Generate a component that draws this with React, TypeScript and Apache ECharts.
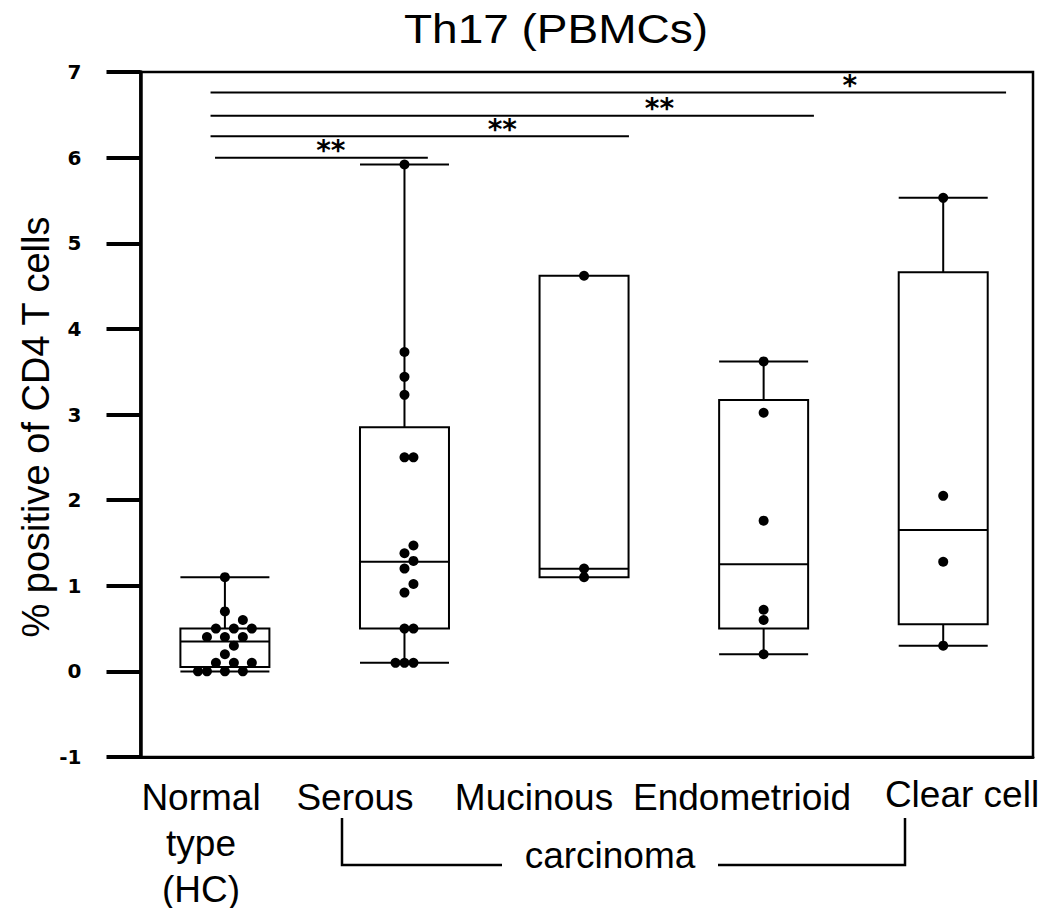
import React, { useEffect, useRef } from "react";
import * as echarts from "echarts";

// Groups shown along the x axis
const CATEGORIES = ["Normal type (HC)", "Serous", "Mucinous", "Endometrioid", "Clear cell"];
const CATEGORY_LABEL_LINES = [["Normal", "type", "(HC)"], ["Serous"], ["Mucinous"], ["Endometrioid"], ["Clear cell"]];

// Box statistics per group: [min, Q1, median, Q3, max]
const BOX_STATS = [
  [0, 0.05, 0.35, 0.5, 1.1],
  [0.1, 0.5, 1.28, 2.85, 5.92],
  [1.1, 1.1, 1.2, 4.62, 4.62],
  [0.2, 0.5, 1.25, 3.17, 3.62],
  [0.3, 0.55, 1.65, 4.66, 5.53],
];

// Individual samples per group: [value, swarm slot]
const HC_POINTS = [
  [1.1, 0], [0.7, 0], [0.6, 2],
  [0.5, -1], [0.5, 1], [0.5, 3],
  [0.4, -2], [0.4, 0], [0.4, 2],
  [0.3, 1], [0.2, 0],
  [0.1, -1], [0.1, 1], [0.1, 3],
  [0, -3], [0, -2], [0, 0], [0, 2],
];
const SEROUS_POINTS = [
  [5.92, 0], [3.73, 0], [3.44, 0], [3.23, 0],
  [2.5, 0], [2.5, 1],
  [1.47, 1], [1.38, 0], [1.29, 1], [1.2, 0], [1.02, 1], [0.92, 0],
  [0.5, 0], [0.5, 1],
  [0.1, -1], [0.1, 0], [0.1, 1],
];
const MUCINOUS_POINTS = [[4.62, 0], [1.2, 0], [1.1, 0]];
const ENDOMETRIOID_POINTS = [[3.62, 0], [3.02, 0], [1.76, 0], [0.72, 0], [0.6, 0], [0.2, 0]];
const CLEAR_CELL_POINTS = [[5.53, 0], [2.05, 0], [1.28, 0], [0.3, 0]];
const GROUP_POINTS = [HC_POINTS, SEROUS_POINTS, MUCINOUS_POINTS, ENDOMETRIOID_POINTS, CLEAR_CELL_POINTS];

// Significance brackets (vs. HC)
const SIG_LABELS = ["*", "**", "**", "**"];
const SIG_LEVELS = [6.76, 6.49, 6.25, 6.0];

// ---- layout ----
const W = 1043;
const H = 908;
const GRID = { left: 140.5, right: 10, top: 72, bottom: 151 };
const X_MIN = -0.47;
const X_MAX = 4.5;
const SWARM_STEP = 0.05; // lateral spacing of overlapping dots, in category units
// bracket start, end and label position along the x axis (category units)
const SIG_SPANS = [
  [-0.08, 4.35, 3.48],
  [-0.08, 3.28, 2.42],
  [-0.08, 2.25, 1.545],
  [-0.055, 1.13, 0.59],
];
const LABEL_POS = [
  [201, 797],
  [355, 797],
  [534, 797],
  [742, 797],
  [962, 794],
];
const LABEL_LINE_STEP = 46;

const TEXT_FONT = "'Liberation Sans', Arial, sans-serif";

export default function App() {
  const ref = useRef<HTMLDivElement>(null);

  useEffect(() => {
    if (!ref.current) return;
    const chart = echarts.init(ref.current, undefined, { renderer: "svg", width: W, height: H });

    const points: number[][] = [];
    GROUP_POINTS.forEach((pts, gi) => {
      pts.forEach(([v, slot]) => points.push([gi + slot * SWARM_STEP, v]));
    });

    const bracketSeries = SIG_LEVELS.map((y, i) => ({
      type: "line",
      data: [
        [SIG_SPANS[i][0], y],
        [SIG_SPANS[i][1], y],
      ],
      symbol: "none",
      silent: true,
      lineStyle: { color: "#000", width: 2 },
      z: 4,
    }));

    const starData = SIG_LEVELS.map((y, i) => [SIG_SPANS[i][2], y, SIG_LABELS[i]]);

    const labelGraphics: any[] = [];
    CATEGORY_LABEL_LINES.forEach((lines, i) => {
      lines.forEach((t, li) => {
        labelGraphics.push({
          type: "text",
          x: LABEL_POS[i][0],
          y: LABEL_POS[i][1] + li * LABEL_LINE_STEP,
          style: {
            text: t,
            fontSize: 37,
            fontFamily: TEXT_FONT,
            fill: "#000",
            align: "center",
            verticalAlign: "middle",
          },
        });
      });
    });

    const bracketLine = { stroke: "#000", lineWidth: 2.5 };

    chart.setOption({
      animation: false,
      backgroundColor: "#fff",
      grid: {
        ...GRID,
        show: true,
        borderColor: "#000",
        borderWidth: 2.5,
        backgroundColor: "transparent",
      },
      xAxis: {
        type: "value",
        min: X_MIN,
        max: X_MAX,
        axisLine: { show: true, onZero: false, lineStyle: { color: "#000", width: 3 } },
        axisTick: { show: false },
        axisLabel: { show: false },
        splitLine: { show: false },
      },
      yAxis: {
        type: "value",
        min: -1,
        max: 7,
        interval: 1,
        axisLine: { show: true, onZero: false, lineStyle: { color: "#000", width: 3.5 } },
        axisTick: { show: true, length: 34, lineStyle: { color: "#000", width: 4 } },
        axisLabel: {
          margin: 59,
          fontFamily: "'DejaVu Sans', sans-serif",
          fontWeight: "bold",
          fontSize: 20,
          color: "#000",
        },
        splitLine: { show: false },
      },
      series: [
        {
          type: "boxplot",
          name: "Th17",
          layout: "horizontal",
          data: BOX_STATS.map((s, i) => ({ name: CATEGORIES[i], value: [i, ...s] })),
          boxWidth: [89, 89],
          itemStyle: { color: "#fff", borderColor: "#000", borderWidth: 2 },
          emphasis: { disabled: true },
          silent: true,
          z: 2,
        },
        {
          type: "scatter",
          data: points,
          symbol: "circle",
          symbolSize: 10,
          itemStyle: { color: "#000", opacity: 1 },
          silent: true,
          z: 5,
        },
        ...bracketSeries,
        {
          type: "scatter",
          data: starData,
          symbolSize: 1,
          itemStyle: { color: "transparent" },
          silent: true,
          label: {
            show: true,
            position: "inside",
            offset: [0, -7],
            formatter: (p: any) => p.value[2],
            fontFamily: "'DejaVu Sans', sans-serif",
            fontWeight: "bold",
            fontSize: 28,
            color: "#000",
            opacity: 1,
            textBorderWidth: 0,
          },
          z: 6,
        },
      ],
      graphic: [
        {
          type: "text",
          x: 556,
          y: 29,
          scaleX: 1.15,
          style: {
            text: "Th17 (PBMCs)",
            fontSize: 40,
            fontFamily: TEXT_FONT,
            fill: "#000",
            align: "center",
            verticalAlign: "middle",
          },
        },
        {
          type: "text",
          x: 36,
          y: 427,
          rotation: Math.PI / 2,
          style: {
            text: "% positive of CD4 T cells",
            fontSize: 38,
            fontFamily: TEXT_FONT,
            fill: "#000",
            align: "center",
            verticalAlign: "middle",
          },
        },
        ...labelGraphics,
        {
          type: "polyline",
          shape: { points: [[342, 818], [342, 865], [502, 865]] },
          style: { ...bracketLine, fill: null },
        },
        {
          type: "polyline",
          shape: { points: [[718, 865], [905, 865], [905, 818]] },
          style: { ...bracketLine, fill: null },
        },
        {
          type: "text",
          x: 610,
          y: 855,
          style: {
            text: "carcinoma",
            fontSize: 37,
            fontFamily: TEXT_FONT,
            fill: "#000",
            align: "center",
            verticalAlign: "middle",
          },
        },
      ],
    });

    return () => chart.dispose();
  }, []);

  return (
    <div
      ref={ref}
      style={{ position: "fixed", left: 0, top: 0, width: W, height: H, background: "#fff" }}
    />
  );
}
